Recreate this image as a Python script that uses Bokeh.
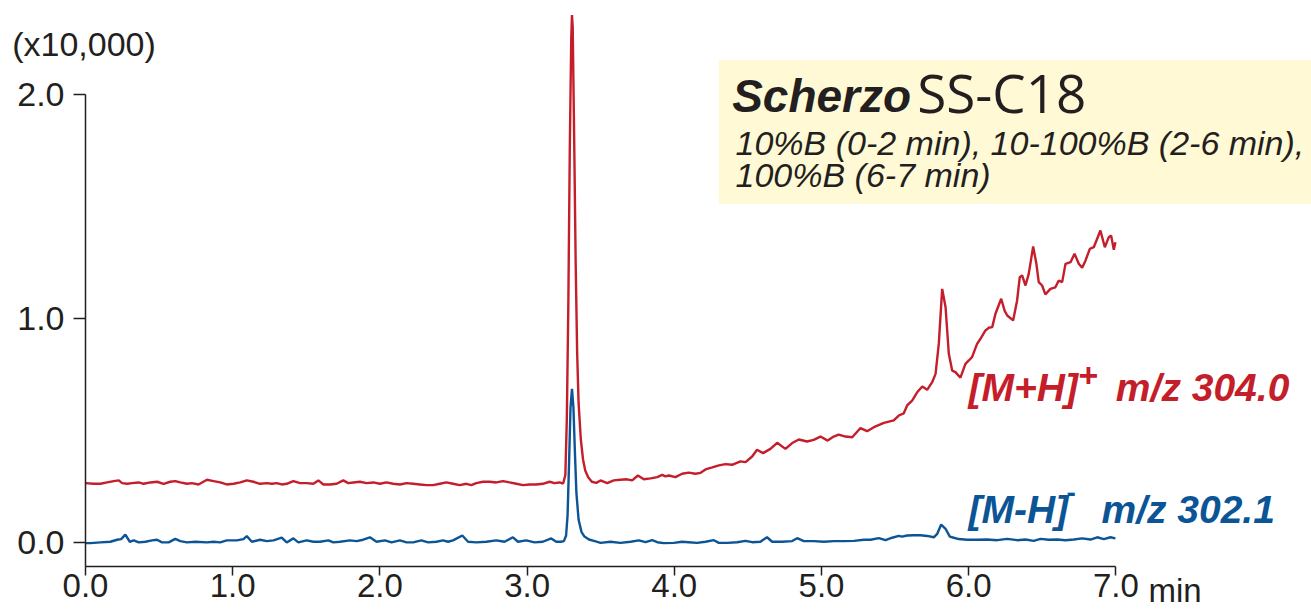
from bokeh.plotting import figure
from bokeh.models import Label, BoxAnnotation, FixedTicker, PrintfTickFormatter, Range1d
from bokeh.embed import file_html
from bokeh.resources import INLINE

# ---------------- data ----------------
red_t = [0.000, 0.056, 0.102, 0.147, 0.192, 0.226, 0.249, 0.283, 0.316, 0.362, 0.395, 0.441, 0.486, 0.531,
         0.576, 0.610, 0.644, 0.689, 0.723, 0.768, 0.825, 0.870, 0.915, 0.960, 1.006, 1.051, 1.096, 1.141,
         1.186, 1.232, 1.266, 1.299, 1.333, 1.367, 1.412, 1.458, 1.503, 1.548, 1.582, 1.616, 1.661, 1.706,
         1.751, 1.785, 1.819, 1.864, 1.910, 1.955, 2.000, 2.045, 2.090, 2.136, 2.181, 2.226, 2.271, 2.316,
         2.362, 2.407, 2.452, 2.497, 2.542, 2.588, 2.621, 2.655, 2.701, 2.746, 2.791, 2.836, 2.881, 2.927,
         2.972, 3.017, 3.062, 3.107, 3.153, 3.186, 3.220,
         3.245, 3.260, 3.270, 3.280, 3.290, 3.300, 3.305, 3.310, 3.320, 3.330, 3.340, 3.350, 3.365, 3.380,
         3.395, 3.415, 3.440, 3.470,
         3.499, 3.544, 3.589, 3.634, 3.679, 3.714, 3.753, 3.793, 3.839, 3.884, 3.918, 3.940, 3.963, 4.008,
         4.053, 4.098, 4.144, 4.179, 4.212, 4.258, 4.303, 4.348, 4.393, 4.449, 4.484, 4.529, 4.562, 4.603,
         4.653, 4.699, 4.755, 4.801, 4.846, 4.902, 4.947, 4.993, 5.042, 5.083, 5.117, 5.163, 5.209, 5.265,
         5.310, 5.356, 5.424, 5.491, 5.525, 5.559, 5.582, 5.616, 5.650, 5.685, 5.718, 5.752, 5.775, 5.797,
         5.820, 5.843, 5.865, 5.888, 5.910, 5.944, 5.978, 6.001, 6.023, 6.057, 6.080, 6.114, 6.136, 6.160,
         6.182, 6.221, 6.244, 6.262, 6.302, 6.329, 6.347, 6.363, 6.386, 6.408, 6.438, 6.460, 6.476, 6.499,
         6.521, 6.555, 6.589, 6.612, 6.635, 6.658, 6.692, 6.719, 6.748, 6.771, 6.794, 6.823, 6.850, 6.895,
         6.925, 6.952, 6.968, 6.986, 6.997]
red_y = [0.264, 0.261, 0.261, 0.267, 0.273, 0.276, 0.264, 0.261, 0.264, 0.267, 0.261, 0.267, 0.270, 0.261,
         0.270, 0.273, 0.267, 0.261, 0.264, 0.258, 0.279, 0.273, 0.267, 0.258, 0.261, 0.267, 0.276, 0.270,
         0.261, 0.264, 0.261, 0.264, 0.258, 0.261, 0.273, 0.264, 0.264, 0.261, 0.276, 0.258, 0.258, 0.261,
         0.276, 0.264, 0.267, 0.270, 0.264, 0.267, 0.261, 0.267, 0.261, 0.258, 0.264, 0.261, 0.258, 0.255,
         0.255, 0.261, 0.267, 0.261, 0.255, 0.261, 0.255, 0.264, 0.270, 0.270, 0.267, 0.273, 0.267, 0.261,
         0.255, 0.258, 0.258, 0.261, 0.270, 0.264, 0.267,
         0.262, 0.300, 0.550, 1.050, 1.750, 2.250, 2.355, 2.300, 1.800, 1.250, 0.850, 0.620, 0.460, 0.370,
         0.320, 0.290, 0.270, 0.265,
         0.276, 0.264, 0.276, 0.279, 0.281, 0.276, 0.298, 0.281, 0.285, 0.291, 0.301, 0.294, 0.298, 0.291,
         0.306, 0.311, 0.306, 0.310, 0.325, 0.334, 0.343, 0.349, 0.346, 0.361, 0.358, 0.383, 0.413, 0.398,
         0.417, 0.444, 0.417, 0.443, 0.459, 0.450, 0.457, 0.472, 0.454, 0.472, 0.481, 0.472, 0.469, 0.510,
         0.496, 0.514, 0.533, 0.544, 0.566, 0.576, 0.611, 0.633, 0.670, 0.696, 0.681, 0.715, 0.752, 0.886,
         1.132, 1.050, 0.842, 0.767, 0.760, 0.735, 0.797, 0.812, 0.827, 0.886, 0.909, 0.946, 0.958, 0.961,
         1.021, 1.088, 1.035, 1.013, 0.991, 1.080, 1.184, 1.192, 1.147, 1.199, 1.321, 1.244, 1.162, 1.147,
         1.107, 1.132, 1.139, 1.169, 1.162, 1.244, 1.251, 1.289, 1.244, 1.226, 1.259, 1.311, 1.318, 1.393,
         1.318, 1.363, 1.370, 1.307, 1.340]

blue_t = [0.000, 0.034, 0.102, 0.169, 0.215, 0.242, 0.271, 0.301, 0.328, 0.362, 0.407, 0.452, 0.486, 0.520,
          0.565, 0.610, 0.644, 0.689, 0.746, 0.825, 0.870, 0.915, 0.960, 1.028, 1.073, 1.096, 1.130, 1.186,
          1.232, 1.277, 1.333, 1.367, 1.412, 1.446, 1.503, 1.548, 1.593, 1.650, 1.684, 1.729, 1.797, 1.842,
          1.887, 1.932, 1.977, 2.034, 2.079, 2.136, 2.181, 2.226, 2.282, 2.328, 2.384, 2.429, 2.463, 2.497,
          2.560, 2.599, 2.655, 2.723, 2.791, 2.847, 2.904, 2.938, 2.994, 3.051, 3.107, 3.164, 3.198,
          3.230, 3.250, 3.265, 3.275, 3.285, 3.295, 3.305, 3.315, 3.325, 3.335, 3.350, 3.370, 3.390, 3.420,
          3.460,
          3.499, 3.566, 3.634, 3.703, 3.759, 3.805, 3.850, 3.884, 3.929, 3.997, 4.053, 4.098, 4.155, 4.212,
          4.269, 4.303, 4.359, 4.427, 4.484, 4.529, 4.585, 4.630, 4.665, 4.733, 4.801, 4.835, 4.880, 4.948,
          5.016, 5.083, 5.151, 5.220, 5.288, 5.333, 5.390, 5.435, 5.480, 5.525, 5.548, 5.582, 5.627, 5.673,
          5.718, 5.763, 5.786, 5.813, 5.843, 5.872, 5.899, 5.933, 5.989, 6.057, 6.125, 6.194, 6.262, 6.329,
          6.386, 6.442, 6.488, 6.544, 6.601, 6.658, 6.715, 6.771, 6.828, 6.873, 6.918, 6.963, 6.997]
blue_y = [-0.004, -0.004, -0.001, 0.002, 0.011, 0.014, 0.034, 0.002, 0.008, -0.001, 0.002, 0.008, 0.011, -0.001,
          -0.001, 0.015, 0.005, -0.001, 0.002, -0.001, 0.002, -0.001, 0.008, 0.008, 0.014, 0.027, 0.002, 0.011,
          0.005, 0.008, 0.020, -0.001, 0.017, -0.001, 0.008, 0.002, 0.002, 0.008, -0.001, 0.002, 0.008, 0.005,
          0.011, 0.022, 0.002, 0.008, -0.001, 0.008, -0.001, -0.001, 0.008, -0.001, 0.002, 0.008, 0.002, 0.008,
          0.030, 0.002, -0.001, 0.002, 0.008, 0.002, 0.022, 0.002, 0.008, -0.001, 0.002, 0.017, 0.002,
          0.002, 0.005, 0.030, 0.120, 0.350, 0.600, 0.685, 0.600, 0.400, 0.220, 0.100, 0.045, 0.025, 0.012,
          0.005,
          -0.003, 0.002, -0.003, 0.002, 0.008, 0.000, 0.009, 0.000, -0.004, -0.003, 0.002, 0.000, -0.003, 0.002,
          0.009, -0.003, -0.003, 0.000, 0.006, 0.000, 0.002, 0.022, 0.002, 0.002, 0.005, 0.018, 0.005, 0.005,
          0.002, 0.005, 0.005, 0.006, 0.011, 0.011, 0.018, 0.009, 0.020, 0.028, 0.025, 0.030, 0.031, 0.031,
          0.028, 0.022, 0.037, 0.079, 0.060, 0.025, 0.020, 0.014, 0.011, 0.011, 0.012, 0.009, 0.015, 0.009,
          0.012, 0.006, 0.015, 0.011, 0.012, 0.009, 0.012, 0.017, 0.012, 0.022, 0.014, 0.022, 0.017]

x_ticks = [0, 1, 2, 3, 4, 5, 6, 7]
y_ticks = [0, 1, 2]

RED = "#C41E2B"
BLUE = "#0B5596"
INK = "#231F20"

X_AXIS_AT = -0.1086   # y value where the time axis is drawn
X_END = 8.329

p = figure(width=1311, height=610, x_range=Range1d(-0.5774, X_END), y_range=Range1d(-0.3052, 2.4205),
           output_backend="svg", toolbar_location=None,
           min_border_left=0, min_border_right=0, min_border_top=0, min_border_bottom=0)
p.outline_line_color = None
p.grid.visible = False

# title box
p.add_layout(BoxAnnotation(left=4.302, right=X_END, bottom=1.512, top=2.155,
                           fill_color="#FFF9D5", fill_alpha=1.0, line_alpha=0, level="underlay"))

p.line(red_t, red_y, line_color=RED, line_width=2.4)
p.line(blue_t, blue_y, line_color=BLUE, line_width=2.4)

for ax in (p.xaxis[0], p.yaxis[0]):
    ax.axis_line_color = INK
    ax.axis_line_width = 1.5
    ax.major_tick_line_color = INK
    ax.major_tick_line_width = 1.5
    ax.major_tick_in = 0
    ax.minor_tick_line_color = None
    ax.major_label_text_font = "Liberation Sans"
    ax.major_label_text_color = INK
    ax.formatter = PrintfTickFormatter(format="%.1f")

p.xaxis.ticker = FixedTicker(ticks=x_ticks)
p.yaxis.ticker = FixedTicker(ticks=y_ticks)
p.xaxis.fixed_location = X_AXIS_AT
p.yaxis.fixed_location = 0
p.xaxis.bounds = (0, 7)
p.yaxis.bounds = (X_AXIS_AT, 2.0)
p.xaxis.major_label_text_font_size = "33px"
p.yaxis.major_label_text_font_size = "34px"
p.xaxis.major_tick_out = 9
p.xaxis.major_label_standoff = -2
p.yaxis.major_tick_out = 12
p.yaxis.major_label_standoff = 9


def lab(x, y, text, size, color=INK, style="normal", font="Liberation Sans"):
    p.add_layout(Label(x=x, y=y, text=text, text_font=font, text_font_size=size,
                       text_font_style=style, text_color=color, text_baseline="alphabetic",
                       text_align="left"))


lab(-0.498, 2.225, "(x10,000)", "34px")
lab(7.222, -0.2145, "min", "33px")

lab(4.393, 1.996, "Scherzo", "46px", style="bold italic")
lab(5.650, 2.008, "SS-C18", "53px", font="Open Sans")
lab(4.416, 1.784, "10%B (0-2 min), 10-100%B (2-6 min),", "34px", style="italic")
lab(4.416, 1.640, "100%B (6-7 min)", "34px", style="italic")

lab(5.999, 0.691, "[M+H]", "39px", color=RED, style="bold italic")
lab(6.746, 0.744, "+", "34px", color=RED, style="bold")
lab(7.000, 0.691, "m/z 304.0", "39px", color=RED, style="bold italic")

lab(5.999, 0.1443, "[M-H]", "39px", color=BLUE, style="bold italic")
lab(6.664, 0.221, "-", "28px", color=BLUE, style="bold")
lab(6.902, 0.1443, "m/z 302.1", "39px", color=BLUE, style="bold italic")

open("out.html", "w").write(file_html(p, INLINE))
